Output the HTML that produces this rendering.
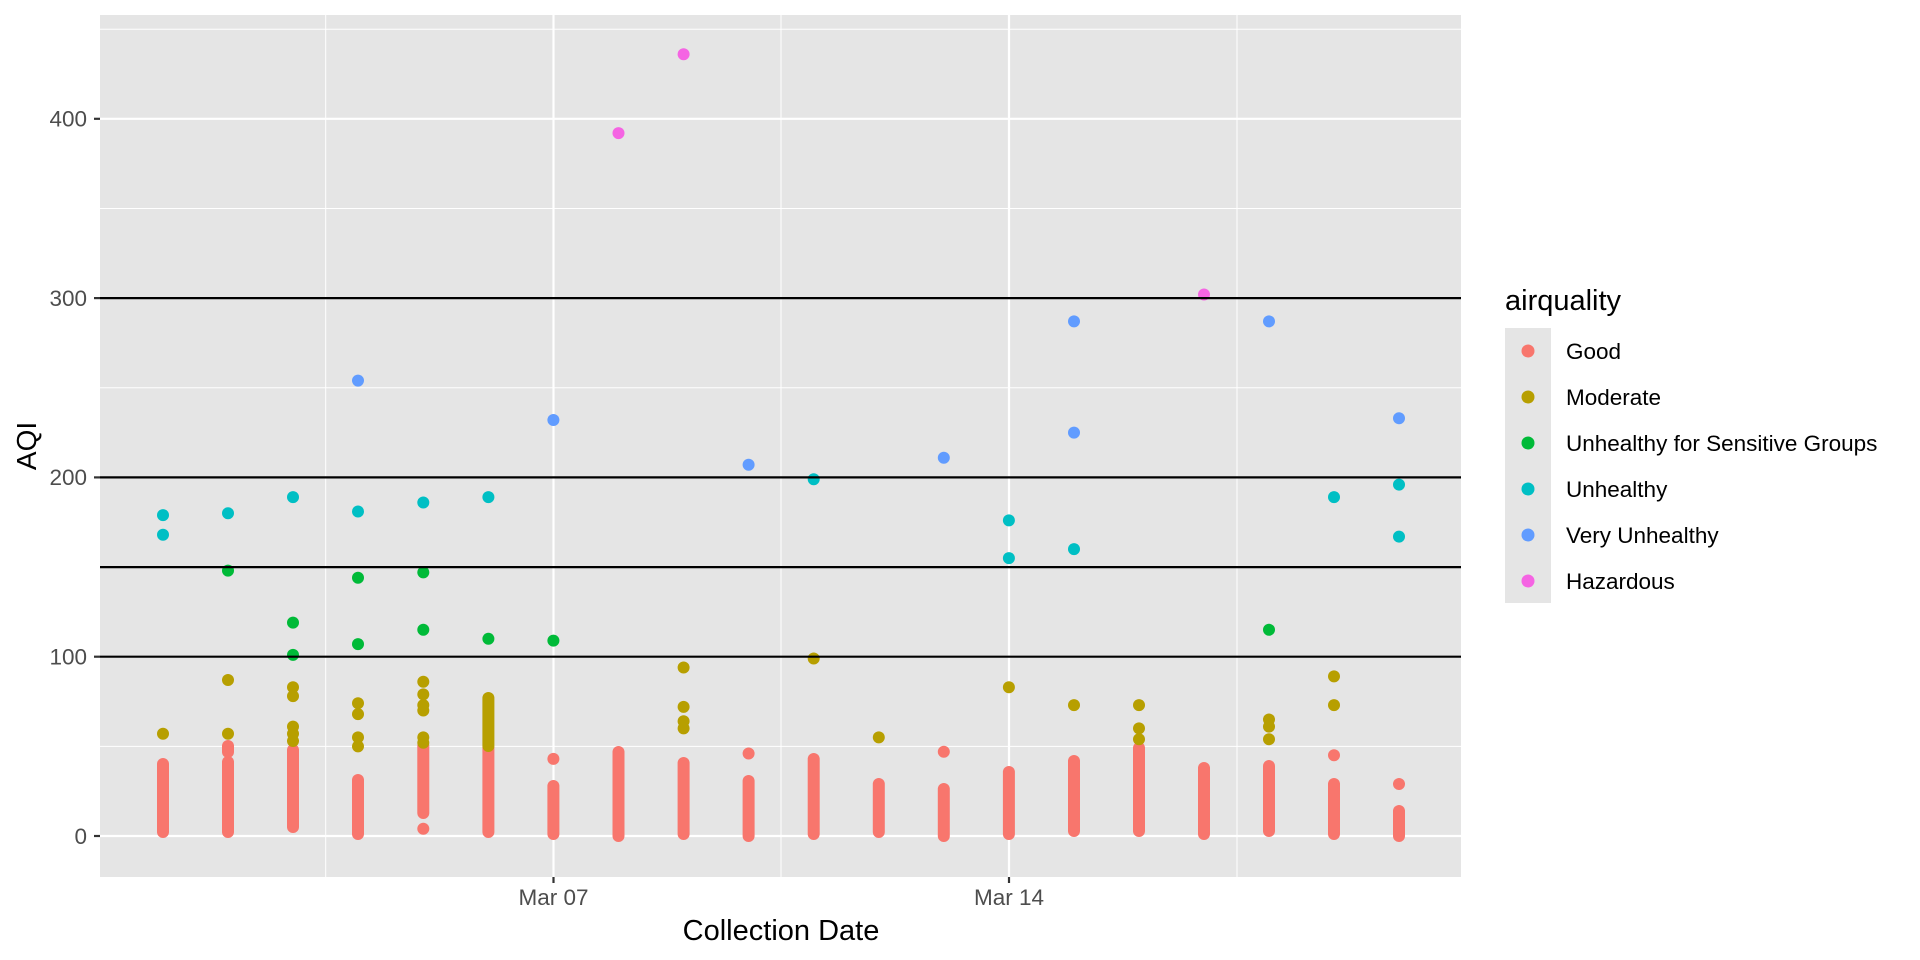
<!DOCTYPE html>
<html><head><meta charset="utf-8"><style>
html,body{margin:0;padding:0;background:#fff;}
svg{display:block;font-family:"Liberation Sans",sans-serif;}
</style></head><body>
<svg width="1920" height="960" viewBox="0 0 1920 960" xmlns="http://www.w3.org/2000/svg">
<rect x="100" y="15" width="1361" height="862" fill="#e5e5e5"/>
<g stroke="#fff" stroke-width="1">
<line x1="100" x2="1461" y1="746.4" y2="746.4"/>
<line x1="100" x2="1461" y1="567.1" y2="567.1"/>
<line x1="100" x2="1461" y1="387.8" y2="387.8"/>
<line x1="100" x2="1461" y1="208.5" y2="208.5"/>
<line x1="100" x2="1461" y1="29.2" y2="29.2"/>
<line x1="325.7" x2="325.7" y1="15" y2="877"/>
<line x1="781" x2="781" y1="15" y2="877"/>
<line x1="1237" x2="1237" y1="15" y2="877"/>
</g>
<g stroke="#fff" stroke-width="2.2">
<line x1="100" x2="1461" y1="836" y2="836"/>
<line x1="100" x2="1461" y1="656.7" y2="656.7"/>
<line x1="100" x2="1461" y1="477.4" y2="477.4"/>
<line x1="100" x2="1461" y1="298.1" y2="298.1"/>
<line x1="100" x2="1461" y1="118.8" y2="118.8"/>
<line x1="553.5" x2="553.5" y1="15" y2="877"/>
<line x1="1009" x2="1009" y1="15" y2="877"/>
</g>
<g stroke="#F8766D" stroke-width="12" stroke-linecap="round">
<line x1="163" x2="163" y1="832" y2="764"/>
<line x1="228" x2="228" y1="832" y2="762"/><line x1="228" x2="228" y1="752" y2="746"/>
<line x1="293" x2="293" y1="827" y2="750"/>
<line x1="358" x2="358" y1="834" y2="780"/>
<line x1="423.3" x2="423.3" y1="813" y2="746"/>
<line x1="488.4" x2="488.4" y1="832" y2="748"/>
<line x1="553.4" x2="553.4" y1="834" y2="786"/>
<line x1="618.5" x2="618.5" y1="836" y2="752"/>
<line x1="683.6" x2="683.6" y1="834" y2="763"/>
<line x1="748.6" x2="748.6" y1="836" y2="781"/>
<line x1="813.7" x2="813.7" y1="834" y2="759"/>
<line x1="878.8" x2="878.8" y1="832" y2="784"/>
<line x1="943.8" x2="943.8" y1="836" y2="789"/>
<line x1="1008.9" x2="1008.9" y1="834" y2="772"/>
<line x1="1074" x2="1074" y1="831" y2="761"/>
<line x1="1139" x2="1139" y1="831" y2="748"/>
<line x1="1204" x2="1204" y1="834" y2="768"/>
<line x1="1269" x2="1269" y1="831" y2="766"/>
<line x1="1334" x2="1334" y1="834" y2="784"/>
<line x1="1399" x2="1399" y1="836" y2="811"/>
</g>
<g fill="#F8766D">
<circle cx="423.3" cy="828.8" r="6"/><circle cx="553.4" cy="758.9" r="6"/><circle cx="748.6" cy="753.5" r="6"/>
<circle cx="943.8" cy="751.7" r="6"/><circle cx="1334" cy="755.3" r="6"/><circle cx="1399" cy="784" r="6"/>
</g>
<g fill="#B79F00">
<circle cx="163" cy="733.8" r="6"/>
<circle cx="228" cy="680" r="6"/><circle cx="228" cy="733.8" r="6"/>
<circle cx="293" cy="687.2" r="6"/><circle cx="293" cy="696.1" r="6"/><circle cx="293" cy="726.6" r="6"/><circle cx="293" cy="733.8" r="6"/><circle cx="293" cy="741" r="6"/>
<circle cx="358" cy="703.3" r="6"/><circle cx="358" cy="714.1" r="6"/><circle cx="358" cy="737.4" r="6"/><circle cx="358" cy="746.4" r="6"/>
<circle cx="423.3" cy="681.8" r="6"/><circle cx="423.3" cy="694.4" r="6"/><circle cx="423.3" cy="705.1" r="6"/><circle cx="423.3" cy="710.5" r="6"/><circle cx="423.3" cy="737.4" r="6"/><circle cx="423.3" cy="742.8" r="6"/>
<circle cx="683.6" cy="667.5" r="6"/><circle cx="683.6" cy="706.9" r="6"/><circle cx="683.6" cy="721.2" r="6"/><circle cx="683.6" cy="728.4" r="6"/>
<circle cx="813.7" cy="658.5" r="6"/>
<circle cx="878.8" cy="737.4" r="6"/>
<circle cx="1008.9" cy="687.2" r="6"/>
<circle cx="1074" cy="705.1" r="6"/>
<circle cx="1139" cy="705.1" r="6"/><circle cx="1139" cy="728.4" r="6"/><circle cx="1139" cy="739.2" r="6"/>
<circle cx="1269" cy="719.5" r="6"/><circle cx="1269" cy="726.6" r="6"/><circle cx="1269" cy="739.2" r="6"/>
<circle cx="1334" cy="676.4" r="6"/><circle cx="1334" cy="705.1" r="6"/>
</g>
<line x1="488.4" x2="488.4" y1="698" y2="746" stroke="#B79F00" stroke-width="12" stroke-linecap="round"/>
<g fill="#00BA38">
<circle cx="228" cy="570.6" r="6"/>
<circle cx="293" cy="622.6" r="6"/><circle cx="293" cy="654.9" r="6"/>
<circle cx="358" cy="577.8" r="6"/><circle cx="358" cy="644.1" r="6"/>
<circle cx="423.3" cy="572.4" r="6"/><circle cx="423.3" cy="629.8" r="6"/>
<circle cx="488.4" cy="638.8" r="6"/>
<circle cx="553.4" cy="640.6" r="6"/>
<circle cx="1269" cy="629.8" r="6"/>
</g>
<g fill="#00BFC4">
<circle cx="163" cy="515.1" r="6"/><circle cx="163" cy="534.8" r="6"/>
<circle cx="228" cy="513.3" r="6"/>
<circle cx="293" cy="497.1" r="6"/>
<circle cx="358" cy="511.5" r="6"/>
<circle cx="423.3" cy="502.5" r="6"/>
<circle cx="488.4" cy="497.1" r="6"/>
<circle cx="813.7" cy="479.2" r="6"/>
<circle cx="1008.9" cy="520.4" r="6"/><circle cx="1008.9" cy="558.1" r="6"/>
<circle cx="1074" cy="549.1" r="6"/>
<circle cx="1334" cy="497.1" r="6"/>
<circle cx="1399" cy="484.6" r="6"/><circle cx="1399" cy="536.6" r="6"/>
</g>
<g fill="#619CFF">
<circle cx="358" cy="380.6" r="6"/><circle cx="553.4" cy="420" r="6"/><circle cx="748.6" cy="464.8" r="6"/>
<circle cx="943.8" cy="457.7" r="6"/><circle cx="1074" cy="321.4" r="6"/><circle cx="1074" cy="432.6" r="6"/>
<circle cx="1269" cy="321.4" r="6"/><circle cx="1399" cy="418.2" r="6"/>
</g>
<g fill="#F564E3">
<circle cx="618.5" cy="133.1" r="6"/><circle cx="683.6" cy="54.3" r="6"/><circle cx="1204" cy="294.5" r="6"/>
</g>
<g stroke="#000" stroke-width="2.2">
<line x1="100" x2="1461" y1="656.7" y2="656.7"/>
<line x1="100" x2="1461" y1="567.1" y2="567.1"/>
<line x1="100" x2="1461" y1="477.4" y2="477.4"/>
<line x1="100" x2="1461" y1="298.1" y2="298.1"/>
</g>
<g stroke="#333" stroke-width="2.2">
<line x1="94" x2="100" y1="836" y2="836"/><line x1="94" x2="100" y1="656.7" y2="656.7"/>
<line x1="94" x2="100" y1="477.4" y2="477.4"/><line x1="94" x2="100" y1="298.1" y2="298.1"/>
<line x1="94" x2="100" y1="118.8" y2="118.8"/>
<line x1="553.5" x2="553.5" y1="877" y2="883"/><line x1="1009" x2="1009" y1="877" y2="883"/>
</g>
<g fill="#4d4d4d" font-size="22.5" text-anchor="end">
<text x="87" y="844">0</text><text x="87" y="664.5">100</text><text x="87" y="485">200</text>
<text x="87" y="306">300</text><text x="87" y="126.5">400</text>
</g>
<g fill="#4d4d4d" font-size="22.5" text-anchor="middle">
<text x="553.5" y="905">Mar 07</text><text x="1009" y="905">Mar 14</text>
</g>
<text x="781" y="940" font-size="29" text-anchor="middle" fill="#000">Collection Date</text>
<text transform="translate(36,446) rotate(-90)" font-size="28" text-anchor="middle" fill="#000">AQI</text>
<text x="1505" y="310" font-size="29" fill="#000">airquality</text>
<rect x="1505" y="328" width="46" height="275" fill="#e5e5e5"/>
<circle cx="1528" cy="351" r="6.5" fill="#F8766D"/>
<circle cx="1528" cy="397" r="6.5" fill="#B79F00"/>
<circle cx="1528" cy="443" r="6.5" fill="#00BA38"/>
<circle cx="1528" cy="489" r="6.5" fill="#00BFC4"/>
<circle cx="1528" cy="535" r="6.5" fill="#619CFF"/>
<circle cx="1528" cy="581" r="6.5" fill="#F564E3"/>
<g font-size="22.5" fill="#000">
<text x="1566" y="359">Good</text>
<text x="1566" y="405">Moderate</text>
<text x="1566" y="451">Unhealthy for Sensitive Groups</text>
<text x="1566" y="497">Unhealthy</text>
<text x="1566" y="543">Very Unhealthy</text>
<text x="1566" y="589">Hazardous</text>
</g>
</svg>
</body></html>
